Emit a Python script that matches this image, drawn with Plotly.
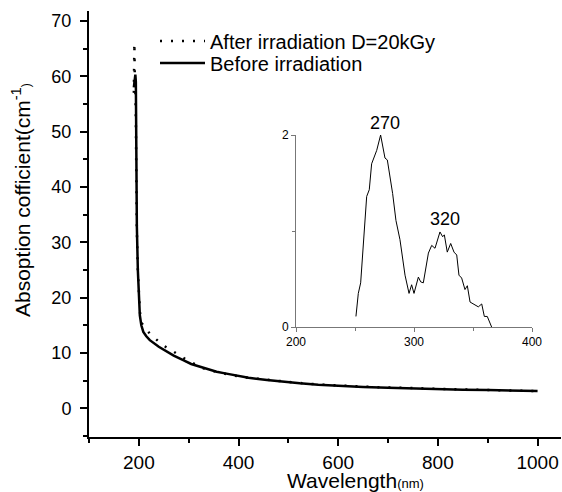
import plotly.graph_objects as go

# Main spectra
before_x = [190, 191, 192, 193, 194, 195, 196, 198, 200, 202, 205, 209, 215, 222, 240, 256, 270, 289, 305,
            323, 340, 356, 373, 390, 420, 457, 490, 523, 560, 600, 650, 700, 750, 800, 850, 900, 950, 1000]
before_y = [58, 59, 60, 60.3, 59, 45, 33, 25, 20.5, 16.8, 15.0, 13.8, 13.0, 12.3, 11.1, 10.2, 9.5, 8.7, 8.0,
            7.5, 7.0, 6.6, 6.3, 6.0, 5.5, 5.1, 4.75, 4.5, 4.25, 4.05, 3.85, 3.7, 3.55, 3.5, 3.35, 3.3, 3.2, 3.1]

after_x = [190, 191, 192, 193, 194, 195, 196, 198, 200, 202, 205, 210, 214, 225, 238, 250, 265, 278, 291, 305,
           317, 330, 345, 360, 375, 390, 420, 457, 490, 523, 560, 600, 650, 700, 750, 800, 850, 900, 950, 1000]
after_y = [57, 66, 59, 58, 52, 40, 32, 25, 21, 17.5, 15.5, 14.8, 14.3, 13.2, 12.2, 11.3, 10.5, 9.7, 9.0, 8.3,
           7.7, 7.2, 6.8, 6.5, 6.2, 5.9, 5.5, 5.15, 4.8, 4.55, 4.3, 4.1, 3.9, 3.75, 3.6, 3.55, 3.4, 3.3, 3.2, 3.1]

# Inset difference spectrum
inset_x = [250.8, 252.8, 254.8, 259.9, 262.1, 264.1, 268.4, 271.7, 275.4, 277.4, 281.9, 284.7, 288.1, 291.8,
           292.4, 295.8, 298.0, 300.0, 303.7, 305.7, 307.9, 312.2, 315.0, 317.8, 319.8, 322.0, 324.3, 325.7,
           328.2, 331.1, 333.9, 336.2, 338.1, 340.4, 343.2, 345.2, 347.5, 351.7, 354.5, 357.4, 359.6, 362.1,
           363.8, 365.8]
inset_y = [0.11, 0.35, 0.46, 1.36, 1.43, 1.70, 1.84, 2.0, 1.76, 1.74, 1.39, 1.11, 0.91, 0.58,
           0.54, 0.35, 0.44, 0.35, 0.52, 0.47, 0.46, 0.77, 0.85, 0.82, 0.89, 0.99, 0.94, 0.96,
           0.78, 0.87, 0.78, 0.75, 0.54, 0.51, 0.39, 0.43, 0.26, 0.23, 0.21, 0.24, 0.11, 0.11,
           0.055, 0.0]
inset_yrange = [0, 2]

peak_labels = ["270", "320"]
peak_x = [275.4, 326.3]
peak_y = [2.25, 1.125]

FONT = "Liberation Sans, Arial, sans-serif"

fig = go.Figure()
fig.add_trace(go.Scatter(x=after_x, y=after_y, mode="lines", name="After irradiation D=20kGy",
                         legend="legend",
                         line=dict(color="black", width=2.5, dash="2px,9px")))
fig.add_trace(go.Scatter(x=before_x, y=before_y, mode="lines", name="Before irradiation",
                         legend="legend2",
                         line=dict(color="black", width=2.5)))
fig.add_trace(go.Scatter(x=inset_x, y=inset_y, mode="lines", showlegend=False,
                         line=dict(color="black", width=1), xaxis="x2", yaxis="y2"))

for t, px, py in zip(peak_labels, peak_x, peak_y):
    fig.add_annotation(x=px, y=py / inset_yrange[1], xref="x2", yref="y2 domain", text=t, showarrow=False,
                       font=dict(size=18, color="black", family=FONT))

fig.add_annotation(x=(355 - 89) / 472, y=-(480 - 437) / 426, xref="paper", yref="paper", showarrow=False,
                   text="Wavelength<span style='font-size:13px'>(nm)</span>", yanchor="middle",
                   font=dict(size=21, color="black", family=FONT))
fig.add_annotation(x=-(89 - 21) / 472, y=(437 - 200) / 426, xref="paper", yref="paper", showarrow=False,
                   textangle=-90, xanchor="center", yanchor="middle",
                   text="Absoption cofficient(cm<sup>-1</sup><span style='font-size:12px'>)</span>",
                   font=dict(size=21, color="black", family=FONT))

leg_common = dict(xanchor="left", yanchor="middle", bgcolor="rgba(0,0,0,0)",
                  font=dict(size=20, family=FONT), itemwidth=45)

fig.update_layout(
    width=562, height=492,
    margin=dict(l=89, r=1, t=11, b=55),
    paper_bgcolor="white", plot_bgcolor="white",
    font=dict(family=FONT, color="black", size=18),
    showlegend=True,
    legend=dict(x=(155 - 89) / 472, y=1 - (41 - 11) / 426, **leg_common),
    legend2=dict(x=(155 - 89) / 472, y=1 - (63 - 11) / 426, **leg_common),
    xaxis=dict(range=[100, 1047], showgrid=False, zeroline=False, showline=True, linecolor="black",
               linewidth=2, ticks="outside", ticklen=7, tickwidth=1.5, tickcolor="black",
               tickvals=[200, 400, 600, 800, 1000], tickfont=dict(size=19), automargin=False,
               ticklabelstandoff=0,
               minor=dict(tickvals=[100, 300, 500, 700, 900], ticklen=4, tickwidth=1.5,
                          tickcolor="black", showgrid=False)),
    yaxis=dict(range=[-5.2, 71.8], showgrid=False, zeroline=False, showline=True, linecolor="black",
               linewidth=2, ticks="outside", ticklen=7, tickwidth=1.5, tickcolor="black",
               tickvals=[0, 10, 20, 30, 40, 50, 60, 70], tickfont=dict(size=18), automargin=False,
               ticklabelstandoff=5,
               minor=dict(tickvals=[-5, 5, 15, 25, 35, 45, 55, 65], ticklen=4, tickwidth=1.5,
                          tickcolor="black", showgrid=False)),
    xaxis2=dict(domain=[(296 - 89) / 472, (532 - 89) / 472], anchor="y2", range=[200, 400],
                showgrid=False, zeroline=False, showline=True, linecolor="#777", linewidth=1,
                ticks="outside", ticklen=4, tickcolor="#777", tickvals=[200, 300, 400],
                tickfont=dict(size=12), ticklabelstandoff=0, automargin=False,
                minor=dict(tickvals=[250, 350], ticklen=3, tickcolor="#777", showgrid=False)),
    yaxis2=dict(domain=[(437 - 327) / 426, (437 - 135) / 426], anchor="x2", range=inset_yrange,
                showgrid=False, zeroline=False, showline=True, linecolor="#777", linewidth=1,
                ticks="outside", ticklen=4, tickcolor="#777", tickvals=[0, 2],
                tickfont=dict(size=12), ticklabelstandoff=0, automargin=False,
                minor=dict(tickvals=[1], ticklen=3, tickcolor="#777", showgrid=False)),
)

fig.write_html("out.html", config={"displayModeBar": False},
               post_script="document.body.style.margin='0';")
